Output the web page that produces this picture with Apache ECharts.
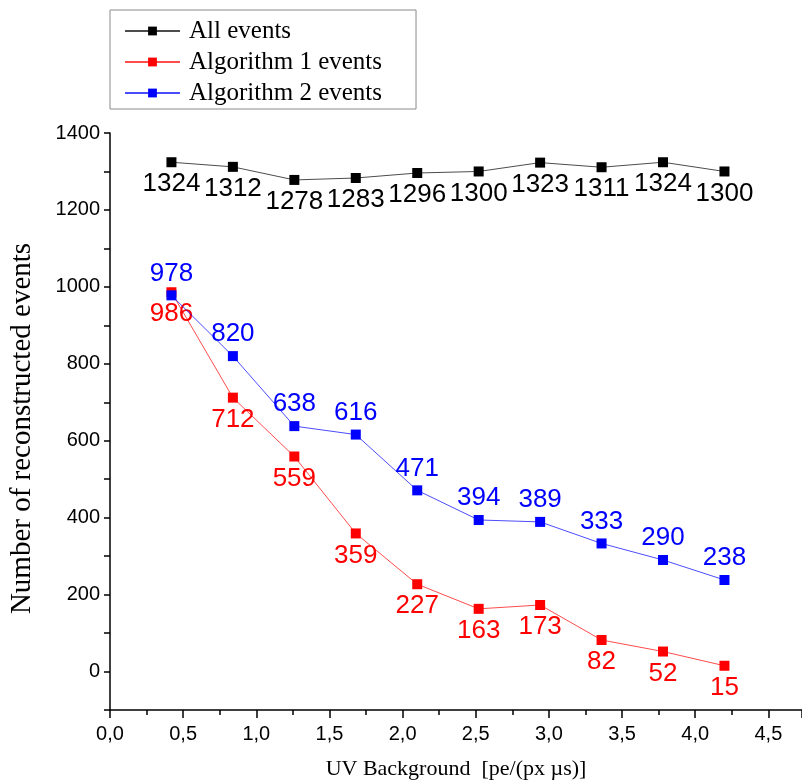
<!DOCTYPE html>
<html>
<head>
<meta charset="utf-8">
<script src="https://cdn.jsdelivr.net/npm/echarts@6/dist/echarts.min.js"></script>
<style>
  html, body { margin: 0; padding: 0; background: #ffffff; }
  #chart { width: 802px; height: 783px; }
</style>
</head>
<body>
<div id="chart"></div>
<script>
// UV background level of each run [pe/(px us)]
const uvBackground = [0.42, 0.84, 1.26, 1.68, 2.10, 2.52, 2.94, 3.36, 3.78, 4.20];

// Reconstructed event counts per background level
const allEvents  = [1324, 1312, 1278, 1283, 1296, 1300, 1323, 1311, 1324, 1300];
const algo1Events = [986, 712, 559, 359, 227, 163, 173, 82, 52, 15];
const algo2Events = [978, 820, 638, 616, 471, 394, 389, 333, 290, 238];

const seriesNames = ['All events', 'Algorithm 1 events', 'Algorithm 2 events'];

const pairs = ys => uvBackground.map((x, i) => [x, ys[i]]);

const serif = '"Liberation Serif", "Times New Roman", serif';
const sans = '"Liberation Sans", Arial, sans-serif';

function makeSeries(name, ys, color, labelPos, z) {
  return {
    name: name,
    type: 'line',
    data: pairs(ys),
    z: z,
    symbol: 'rect',
    symbolSize: 10,
    itemStyle: { color: color },
    lineStyle: { color: color, width: 1, opacity: 0.7 },
    label: {
      show: true,
      position: labelPos,
      distance: 4,
      color: color,
      fontFamily: sans,
      fontSize: 26,
      formatter: p => String(p.value[1])
    },
    emphasis: { disabled: true },
    animation: false
  };
}

const chart = echarts.init(document.getElementById('chart'), null, { renderer: 'canvas' });

chart.setOption({
  backgroundColor: '#ffffff',
  animation: false,
  grid: { left: 110, right: 0, top: 133, bottom: 73, containLabel: false, outerBoundsMode: 'none' },
  legend: {
    orient: 'vertical',
    left: 110,
    top: 10,
    data: seriesNames,
    borderColor: '#8a8a8a',
    borderWidth: 1,
    padding: [7, 34, 2, 14],
    itemGap: 3,
    itemWidth: 55,
    itemHeight: 11,
    textStyle: { fontFamily: serif, fontSize: 25, color: '#000', lineHeight: 28, padding: [0, 0, 0, 4] }
  },
  xAxis: {
    type: 'value',
    min: 0,
    max: 4.73,
    interval: 0.5,
    name: 'UV Background  [pe/(px µs)]',
    nameLocation: 'middle',
    nameGap: 48,
    nameTextStyle: { fontFamily: serif, fontSize: 22, color: '#000' },
    axisLine: { show: true, onZero: false, lineStyle: { color: '#000', width: 1.5 } },
    axisTick: { show: true, length: 8, lineStyle: { color: '#000', width: 1.5 } },
    minorTick: { show: true, splitNumber: 2, length: 5, lineStyle: { color: '#000', width: 1.5 } },
    axisLabel: {
      color: '#000',
      fontFamily: sans,
      fontSize: 20,
      margin: 14,
      showMaxLabel: false,
      formatter: v => (Math.abs(v * 2 - Math.round(v * 2)) < 1e-6 ? v.toFixed(1).replace('.', ',') : '')
    },
    splitLine: { show: false }
  },
  yAxis: {
    type: 'value',
    min: -100,
    max: 1400,
    interval: 100,
    name: 'Number of reconstructed events',
    nameLocation: 'middle',
    nameGap: 73,
    nameTextStyle: { fontFamily: serif, fontSize: 29, color: '#000', padding: [0, 14, 0, 0] },
    axisLine: { show: true, lineStyle: { color: '#000', width: 1.5 } },
    axisTick: { show: true, length: 6, lineStyle: { color: '#000', width: 1.5 } },
    axisLabel: {
      color: '#000',
      fontFamily: sans,
      fontSize: 20,
      margin: 10,
      formatter: v => (v % 200 === 0 ? String(v) : '')
    },
    splitLine: { show: false }
  },
  series: [
    makeSeries(seriesNames[0], allEvents, '#000000', 'bottom', 2),
    makeSeries(seriesNames[1], algo1Events, '#ff0000', 'bottom', 3),
    makeSeries(seriesNames[2], algo2Events, '#0000ff', 'top', 4)
  ]
});
</script>
</body>
</html>
